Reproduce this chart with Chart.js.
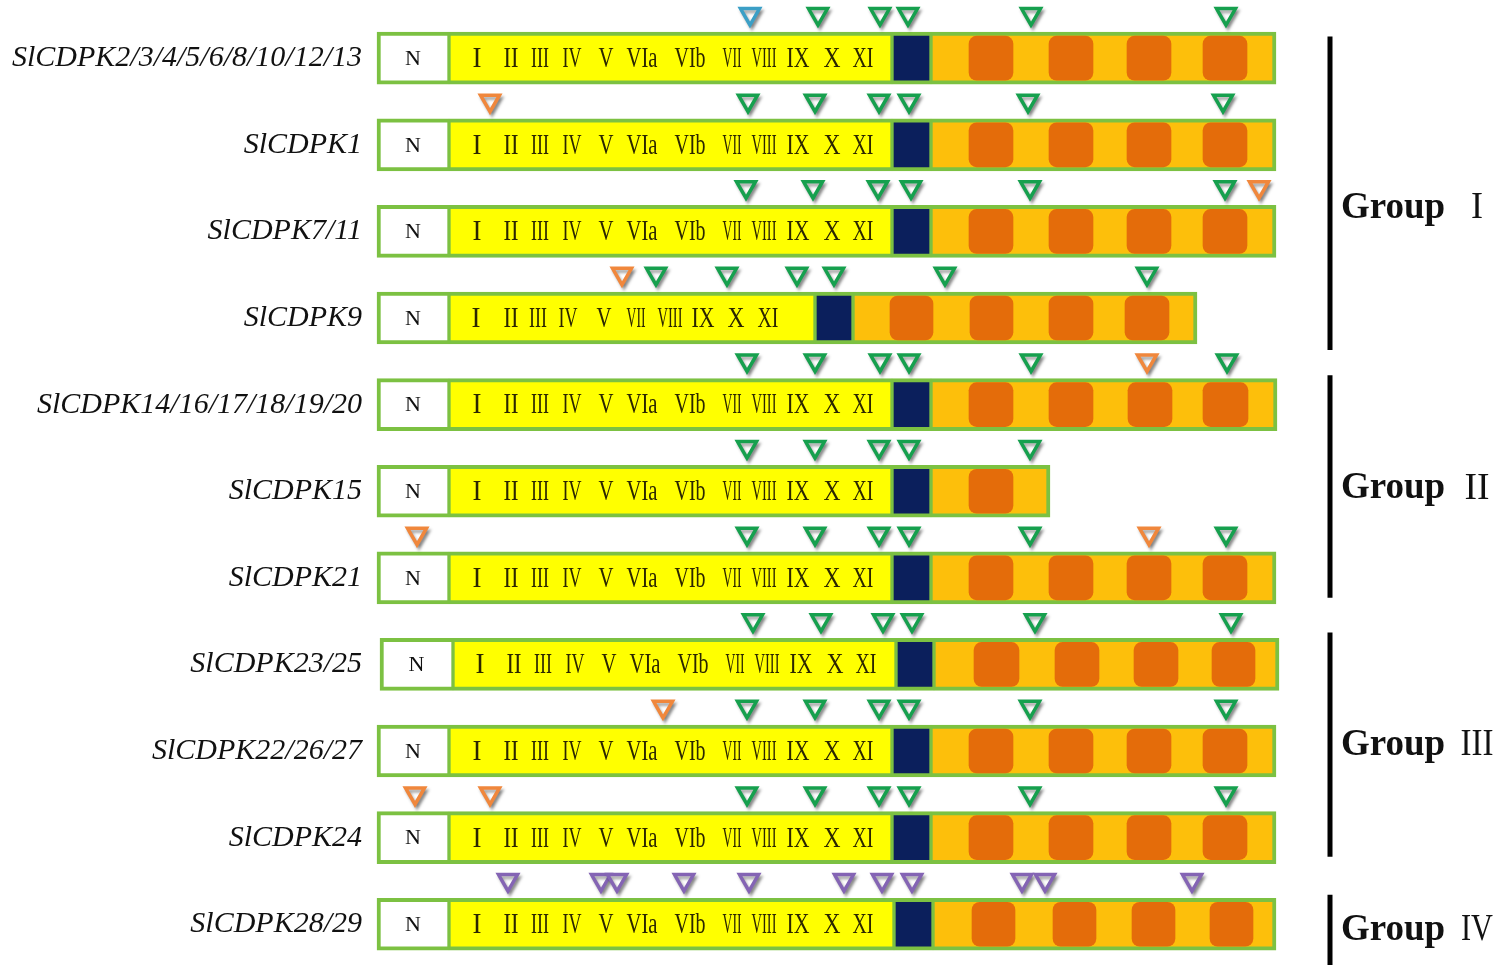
<!DOCTYPE html>
<html>
<head>
<meta charset="utf-8">
<script src="https://cdn.jsdelivr.net/npm/chart.js@4.4.1/dist/chart.umd.min.js"></script>
<style>
html,body{margin:0;padding:0;background:#fff;}
#c{display:block;}
</style>
</head>
<body>
<canvas id="c" width="1500" height="971"></canvas>
<script>
// ---------------- DATA ----------------
const rowNames = [
  'SlCDPK2/3/4/5/6/8/10/12/13',
  'SlCDPK1',
  'SlCDPK7/11',
  'SlCDPK9',
  'SlCDPK14/16/17/18/19/20',
  'SlCDPK15',
  'SlCDPK21',
  'SlCDPK23/25',
  'SlCDPK22/26/27',
  'SlCDPK24',
  'SlCDPK28/29'
];
// domain boundaries along the protein (drawing units)
const proteinStart = [7, 7, 7, 7, 7, 7, 7, 10, 7, 7, 7];
const nTermEnd     = [79, 79, 79, 79, 79, 79, 79, 83, 79, 79, 79];
const kinaseEnd    = [522, 522, 522, 445, 522, 522, 522, 526, 522, 522, 524];
const junctionEnd  = [561, 561, 561, 483, 561, 561, 561, 564, 561, 561, 563];
const proteinEnd   = [906, 906, 906, 827, 907, 680, 906, 909, 906, 906, 906];
// EF-hand blocks per row [start, end]
const efHands = [
  [[599,643],[679,723],[757,801],[833,877]],
  [[599,643],[679,723],[757,801],[833,877]],
  [[599,643],[679,723],[757,801],[833,877]],
  [[520,563],[600,643],[679,723],[755,799]],
  [[599,643],[679,723],[758,802],[833,878]],
  [[599,643]],
  [[599,643],[679,723],[757,801],[833,877]],
  [[604,649],[685,729],[764,808],[842,885]],
  [[599,643],[679,723],[757,801],[833,877]],
  [[599,643],[679,723],[757,801],[833,877]],
  [[602,645],[683,726],[762,805],[840,883]]
];
// kinase subdomain labels
const motifsFull  = ['I','II','III','IV','V','VIa','VIb','VII','VIII','IX','X','XI'];
const motifPosFull = [107, 141, 170, 202, 236, 272, 320, 362, 394, 428, 462, 493];
const motifsShort = ['I','II','III','IV','V','VII','VIII','IX','X','XI'];
const motifPosShort = [106, 141, 168, 198, 234, 266, 300, 333, 366, 398];
const rowMotifSet = ['full','full','full','short','full','full','full','full','full','full','full'];
// motif sites (triangles) per row
const greenSites = [
  [448, 510, 538, 661, 856],
  [378, 445, 509, 539, 658, 853],
  [376, 443, 508, 541, 660, 855],
  [286, 357, 427, 464, 575, 777],
  [377, 445, 510, 539, 661, 857],
  [377, 445, 509, 539, 660],
  [377, 445, 509, 539, 660, 856],
  [383, 451, 513, 542, 665, 861],
  [377, 445, 509, 539, 660, 856],
  [377, 445, 509, 539, 660, 856],
  []
];
const orangeSites = [[], [120], [889], [252], [777], [], [47, 779], [], [293], [45, 120], []];
const blueSites   = [[380], [], [], [], [], [], [], [], [], [], []];
const purpleSites = [[], [], [], [], [], [], [], [], [], [],
  [138, 231, 247, 314, 379, 474, 512, 542, 652, 675, 822]];
// groups
const groupNames    = ['Group', 'Group', 'Group', 'Group'];
const groupNumerals = ['I', 'II', 'III', 'IV'];
const groupTop      = [-0.25, 3.66, 6.63, 9.66];
const groupBottom   = [3.37, 6.23, 9.22, 10.47];
const groupLabelRow = [1.73, 4.97, 7.93, 10.07];

// ---------------- LAYOUT / STYLE ----------------
const siteOffset = -0.51;      // triangles sit above each bar
const bracketX = 960;
const groupLabelX = 971;
const groupNumeralX = 1107;
const GREEN_EDGE = '#7cc142';
const motifWidth = {I:9,II:15,III:18,IV:19,V:15,VIa:31,VIb:31,VII:19,VIII:25,IX:23,X:17,XI:21};
const groupNumWidth = {I:12,II:25,III:33,IV:32};

function seg(a, b) { return rowNames.map((_, r) => ({y: r, x: [a[r], b[r]]})); }
function sites(arr) { const out = []; arr.forEach((xs, r) => xs.forEach(v => out.push({x: v, y: r + siteOffset}))); return out; }

const barBase = {type: 'bar', grouped: false, borderSkipped: false, barThickness: 52, borderColor: GREEN_EDGE};
const triBase = {type: 'scatter', pointStyle: 'triangle', rotation: 180, pointRadius: 11, pointHoverRadius: 11,
                 pointBorderWidth: 3.5, pointBackgroundColor: '#ffffff', order: 0};

const datasets = [
  Object.assign({}, barBase, {label: 'N-terminal', data: seg(proteinStart, nTermEnd), backgroundColor: '#ffffff',
    borderWidth: {top: 4, bottom: 4, left: 4, right: 2}, order: 3}),
  Object.assign({}, barBase, {label: 'Kinase', data: seg(nTermEnd, kinaseEnd), backgroundColor: '#ffff00',
    borderWidth: {top: 4, bottom: 4, left: 2, right: 2}, order: 3}),
  Object.assign({}, barBase, {label: 'Junction', data: seg(kinaseEnd, junctionEnd), backgroundColor: '#0b1f5c',
    borderWidth: {top: 4, bottom: 4, left: 2, right: 2}, order: 3}),
  Object.assign({}, barBase, {label: 'CaM-like', data: seg(junctionEnd, proteinEnd), backgroundColor: '#fdbf0b',
    borderWidth: {top: 4, bottom: 4, left: 2, right: 4}, order: 3}),
  {type: 'bar', label: 'EF-hand', grouped: false, borderSkipped: false, barThickness: 44, borderRadius: 8,
    borderWidth: 0, backgroundColor: '#e46c0a', order: 2,
    data: efHands.flatMap((blocks, r) => blocks.map(b => ({y: r, x: [b[0], b[1]]})))},
  Object.assign({}, triBase, {label: 'green', data: sites(greenSites), pointBorderColor: '#16a04e'}),
  Object.assign({}, triBase, {label: 'orange', data: sites(orangeSites), pointBorderColor: '#f0873c'}),
  Object.assign({}, triBase, {label: 'blue', data: sites(blueSites), pointBorderColor: '#3b9fc6'}),
  Object.assign({}, triBase, {label: 'purple', data: sites(purpleSites), pointBorderColor: '#8464b4'})
];
groupTop.forEach((t, i) => datasets.push({
  type: 'line', label: 'group' + i, data: [{x: bracketX, y: t}, {x: bracketX, y: groupBottom[i]}],
  borderColor: '#000', borderWidth: 5, pointRadius: 0, pointHoverRadius: 0, fill: false, order: 0
}));

const triShadow = {
  id: 'triShadow',
  beforeDatasetDraw(chart, args) {
    if (chart.data.datasets[args.index].type === 'scatter') {
      const c = chart.ctx; c.save();
      c.shadowColor = 'rgba(0,0,0,0.35)'; c.shadowBlur = 3; c.shadowOffsetX = 2; c.shadowOffsetY = 3;
    }
  },
  afterDatasetDraw(chart, args) {
    if (chart.data.datasets[args.index].type === 'scatter') chart.ctx.restore();
  }
};

const domainText = {
  id: 'domainText',
  afterDatasetsDraw(chart) {
    const {ctx, scales: {x, y}} = chart;
    ctx.save();
    ctx.textAlign = 'center';
    ctx.textBaseline = 'middle';
    rowNames.forEach((_, r) => {
      const py = y.getPixelForValue(r);
      ctx.font = '22px "Liberation Serif"';
      ctx.fillStyle = '#111';
      ctx.fillText('N', x.getPixelForValue((proteinStart[r] + nTermEnd[r]) / 2), py + 1);
      const full = rowMotifSet[r] === 'full';
      const labels = full ? motifsFull : motifsShort;
      const pos = full ? motifPosFull : motifPosShort;
      const shift = proteinStart[r] - proteinStart[0];
      ctx.font = '30px "Liberation Serif"';
      ctx.fillStyle = '#2b2600';
      labels.forEach((m, i) => ctx.fillText(m, x.getPixelForValue(pos[i] + shift), py + 1, motifWidth[m]));
    });
    groupNames.forEach((g, i) => {
      const py = y.getPixelForValue(groupLabelRow[i]);
      ctx.fillStyle = '#111';
      ctx.textAlign = 'left';
      ctx.font = 'bold 37px "Liberation Serif"';
      ctx.fillText(g, x.getPixelForValue(groupLabelX), py);
      ctx.textAlign = 'center';
      ctx.font = '38px "Liberation Serif"';
      const n = groupNumerals[i];
      ctx.fillText(n, x.getPixelForValue(groupNumeralX), py, groupNumWidth[n]);
    });
    ctx.restore();
  }
};

new Chart(document.getElementById('c'), {
  type: 'bar',
  data: {datasets},
  options: {
    indexAxis: 'y',
    responsive: false,
    animation: false,
    events: [],
    layout: {padding: 0, autoPadding: false},
    plugins: {legend: {display: false}, tooltip: {enabled: false}},
    scales: {
      x: {type: 'linear', min: 0, max: 1130, display: false, offset: false},
      y: {
        type: 'linear', min: -0.672, max: 10.54, reverse: true, offset: false,
        grid: {display: false, drawTicks: false, offset: false},
        border: {display: false},
        afterBuildTicks: s => { s.ticks = rowNames.map((_, i) => ({value: i})); },
        afterFit: s => { s.width = 370; s.paddingTop = 0; s.paddingBottom = 0; },
        ticks: {
          autoSkip: false, padding: 8, color: '#111',
          font: {family: '"Liberation Serif"', size: 30, style: 'italic'},
          callback: v => rowNames[v] !== undefined ? rowNames[v] : ''
        }
      }
    }
  },
  plugins: [triShadow, domainText]
});
</script>
</body>
</html>
